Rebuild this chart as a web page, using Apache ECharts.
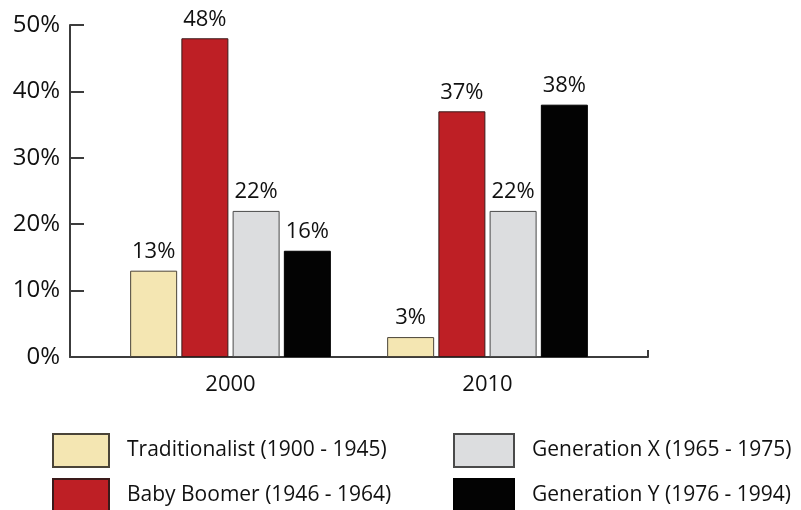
<!DOCTYPE html>
<html>
<head>
<meta charset="utf-8">
<script src="https://cdn.jsdelivr.net/npm/echarts@6/dist/echarts.min.js"></script>
<style>html,body{margin:0;padding:0;background:#fff}#c{width:801px;height:510px}</style>
</head>
<body>
<div id="c"></div>
<script>
const categories = ['2000', '2010'];
const seriesNames = ['Traditionalist (1900 - 1945)', 'Baby Boomer (1946 - 1964)', 'Generation X (1965 - 1975)', 'Generation Y (1976 - 1994)'];
const traditionalist = [13, 3];
const babyBoomer = [48, 37];
const generationX = [22, 22];
const generationY = [16, 38];
const yMin = 0, yMax = 50, yStep = 10;

const colors = ['#F4E6B2', '#BE1F25', '#DCDDDF', '#030303'];
const borders = ['#4a4438', '#3a1a1a', '#4a4a4a', '#000000'];
const values = [traditionalist, babyBoomer, generationX, generationY];
const font = '"Open Sans", "Noto Sans", sans-serif';
const ink = '#111111';

const legendPos = [
  {left: 52, top: 433, w: 56},
  {left: 52, top: 478, w: 56},
  {left: 453, top: 433, w: 60},
  {left: 453, top: 478, w: 60}
];

const chart = echarts.init(document.getElementById('c'), null, {renderer: 'canvas'});
chart.setOption({
  animation: false,
  backgroundColor: '#ffffff',
  grid: [
    {left: 70, right: 153, top: 25, bottom: 153},
    {left: 102, right: 185, top: 25, bottom: 153}
  ],
  xAxis: [
    {gridIndex: 0, type: 'value', min: 0, max: 1, interval: 1,
     axisLine: {show: true, lineStyle: {color: '#3c3c3c', width: 2}},
     axisTick: {show: true, inside: true, length: 7, lineStyle: {color: '#3c3c3c', width: 2}},
     axisLabel: {show: false}, splitLine: {show: false}},
    {gridIndex: 1, type: 'category', data: categories,
     axisLine: {show: false}, axisTick: {show: false}, splitLine: {show: false},
     axisLabel: {show: true, margin: 17, fontSize: 22, fontFamily: font, color: ink}}
  ],
  yAxis: [
    {gridIndex: 0, type: 'value', min: yMin, max: yMax, interval: yStep,
     axisLine: {show: true, lineStyle: {color: '#3c3c3c', width: 2}},
     axisTick: {show: true, inside: true, length: 14, lineStyle: {color: '#3c3c3c', width: 2}},
     splitLine: {show: false},
     axisLabel: {margin: 10, fontSize: 24, fontFamily: font, color: ink, formatter: '{value}%'}},
    {gridIndex: 1, type: 'value', min: yMin, max: yMax, interval: yStep, show: false}
  ],
  legend: seriesNames.map((name, i) => ({
    data: [name], orient: 'horizontal', left: legendPos[i].left, top: legendPos[i].top, padding: 0,
    itemWidth: legendPos[i].w, itemHeight: 33, icon: 'rect', selectedMode: false,
    textStyle: {fontSize: 21, fontFamily: font, color: ink, padding: [0, 0, 0, 13]}
  })),
  series: seriesNames.map((name, i) => ({
    name: name,
    type: 'bar',
    xAxisIndex: 1,
    yAxisIndex: 1,
    data: values[i],
    barWidth: 47,
    barGap: '9%',
    itemStyle: {color: colors[i], borderColor: borders[i], borderWidth: 1},
    label: {show: true, position: 'top', distance: 8, fontSize: 22, fontFamily: font, color: ink, formatter: '{c}%'}
  }))
});
</script>
</body>
</html>
